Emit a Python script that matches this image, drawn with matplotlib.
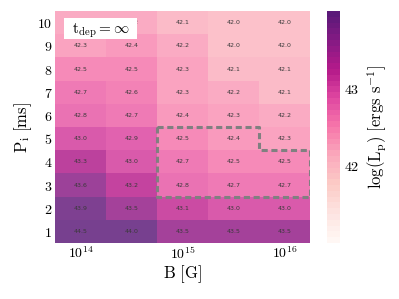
import numpy as np
import matplotlib
matplotlib.use("Agg")
import matplotlib.pyplot as plt
from matplotlib.colors import Normalize
from matplotlib.patches import Rectangle

plt.rcParams["mathtext.fontset"] = "cm"

# log10(B) at column centres, initial spin period rows
log_b = [14.0, 14.5, 15.0, 15.5, 16.0]
periods = [1, 2, 3, 4, 5, 6, 7, 8, 9, 10]

# log(L_p), one row per period (P = 1 ... 10)
lum = [
    [44.5, 44.0, 43.5, 43.5, 43.5],
    [43.9, 43.5, 43.1, 43.0, 43.0],
    [43.6, 43.2, 42.8, 42.7, 42.7],
    [43.3, 43.0, 42.7, 42.5, 42.5],
    [43.0, 42.9, 42.5, 42.4, 42.3],
    [42.8, 42.7, 42.4, 42.3, 42.2],
    [42.7, 42.6, 42.3, 42.2, 42.1],
    [42.5, 42.5, 42.3, 42.1, 42.1],
    [42.3, 42.4, 42.2, 42.0, 42.0],
    [42.2, 42.2, 42.1, 42.0, 42.0],
]

# highlighted region (cell edges)
box_x = [14.75, 15.75, 15.75, 16.25, 16.25, 14.75, 14.75]
box_y = [5.5, 5.5, 4.5, 4.5, 2.5, 2.5, 5.5]

x_edges = np.append(np.array(log_b) - 0.25, log_b[-1] + 0.25)
y_edges = np.append(np.array(periods) - 0.5, periods[-1] + 0.5)
z = np.array(lum)

fig = plt.figure(figsize=(3.99, 2.99), dpi=100)
ax = fig.add_axes([0.138, 0.187, 0.639, 0.776])
cax = fig.add_axes([0.820, 0.187, 0.032, 0.776])

cmap = plt.get_cmap("RdPu", 40)
norm = Normalize(vmin=41, vmax=44)
ax.pcolormesh(x_edges, y_edges, z, cmap=cmap, norm=norm, alpha=0.75,
              linewidth=0, antialiased=False)

for i, p in enumerate(periods):
    for j, b in enumerate(log_b):
        ax.text(b, p, f"{z[i, j]:.1f}", ha="center", va="center",
                fontsize=4.5, color="#3a3a3a")

ax.plot(box_x, box_y, ls="--", color="grey", lw=2.2, dashes=(2, 1.2))

# label box in the top-left corner
ax.add_patch(Rectangle((0.035, 0.879), 0.286, 0.091, transform=ax.transAxes,
                       facecolor="white", edgecolor="none", zorder=5))
ax.text(0.067, 0.905, r"$\rm t_{dep} = \infty$", transform=ax.transAxes,
        fontsize=11, va="baseline", ha="left", zorder=6)

ax.set_xlim(x_edges[0], x_edges[-1])
ax.set_ylim(y_edges[0], y_edges[-1])
ax.set_xticks([14, 15, 16])
ax.set_xticklabels([r"$10^{14}$", r"$10^{15}$", r"$10^{16}$"], fontsize=10)
ax.set_yticks(periods)
ax.set_yticklabels([f"${p}$" for p in periods], fontsize=10)
ax.tick_params(length=0, pad=2)
for s in ax.spines.values():
    s.set_visible(False)
ax.set_xlabel(r"$\rm B\ [G]$", fontsize=12, labelpad=1)
ax.set_ylabel(r"$\rm P_i\ [ms]$", fontsize=12, labelpad=2)

sm = plt.cm.ScalarMappable(cmap=cmap, norm=norm)
cb = fig.colorbar(sm, cax=cax, alpha=0.9)
cb.outline.set_visible(False)
cb.set_ticks([42, 43])
cb.set_ticklabels([r"$42$", r"$43$"], fontsize=10)
cb.ax.tick_params(length=0, pad=3)
cb.set_label(r"$\log({\rm L_p})\ [{\rm ergs\ s^{-1}}]$", fontsize=12)

fig.savefig("out.png", dpi=100)
